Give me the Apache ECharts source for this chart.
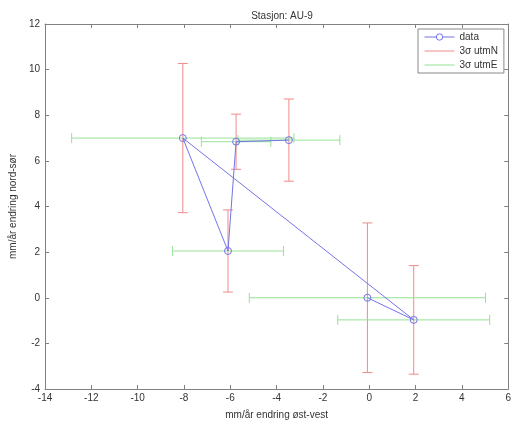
<!DOCTYPE html>
<html>
<head>
<meta charset="utf-8">
<script src="https://cdn.jsdelivr.net/npm/echarts@6/dist/echarts.min.js"></script>
<style>
  html, body { margin: 0; padding: 0; background: #fff; }
  #chart { width: 514px; height: 425px; }
</style>
</head>
<body>
<div id="chart"></div>
<script>
// Station velocities (mm/year) with 3-sigma uncertainties
const xVals = [-3.47, -5.75, -6.1, -8.05, 1.92, -0.08];   // east-west
const yVals = [6.91, 6.84, 2.05, 7.0, -0.97, 0.0];        // north-south
const errN  = [1.8, 1.21, 1.8, 3.27, 2.38, 3.28];         // 3σ utmN
const errE  = [2.2, 1.5, 2.4, 4.8, 3.28, 5.1];            // 3σ utmE

const xTicks = { min: -14, max: 6, interval: 2 };
const yTicks = { min: -4, max: 12, interval: 2 };

const blue = '#7474e6';
const red = '#f08a8a';
const green = '#96e296';
const axisColor = '#808080';
const font = 'Liberation Sans, Arial, sans-serif';

const pts = xVals.map((x, i) => [x, yVals[i]]);
const nData = xVals.map((x, i) => [x, yVals[i], errN[i]]);
const eData = xVals.map((x, i) => [x, yVals[i], errE[i]]);

function errorBar(vertical, color) {
  return function (params, api) {
    const x = api.value(0), y = api.value(1), e = api.value(2);
    const a = vertical ? api.coord([x, y + e]) : api.coord([x - e, y]);
    const b = vertical ? api.coord([x, y - e]) : api.coord([x + e, y]);
    const cap = 5;
    const style = { stroke: color, lineWidth: 1, fill: null };
    const seg = (x1, y1, x2, y2) => ({ type: 'line', shape: { x1, y1, x2, y2 }, style });
    const kids = [seg(a[0], a[1], b[0], b[1])];
    if (vertical) {
      kids.push(seg(a[0] - cap, a[1], a[0] + cap, a[1]));
      kids.push(seg(b[0] - cap, b[1], b[0] + cap, b[1]));
    } else {
      kids.push(seg(a[0], a[1] - cap, a[0], a[1] + cap));
      kids.push(seg(b[0], b[1] - cap, b[0], b[1] + cap));
    }
    return { type: 'group', children: kids };
  };
}

const axisCommon = {
  axisLine: { show: true, onZero: false, lineStyle: { color: axisColor, width: 1 } },
  axisTick: { show: true, inside: true, length: 4, lineStyle: { color: axisColor } },
  splitLine: { show: false }
};

const chart = echarts.init(document.getElementById('chart'), null, { renderer: 'canvas' });
chart.setOption({
  animation: false,
  backgroundColor: '#fff',
  textStyle: { fontFamily: font },
  title: {
    text: 'Stasjon: AU-9',
    left: 277, top: 6, textAlign: 'center',
    textStyle: { fontSize: 10, fontWeight: 'normal', color: '#333', fontFamily: font }
  },
  grid: { left: 45, right: 4, top: 24, bottom: 33, containLabel: false },
  legend: {
    orient: 'vertical',
    left: 418, top: 29,
    width: 85,
    itemWidth: 30, itemHeight: 8, itemGap: 4,
    padding: [3, 6, 3, 6],
    backgroundColor: '#fff',
    borderColor: '#888', borderWidth: 1,
    textStyle: { fontSize: 10, color: '#333', fontFamily: font },
    data: [
      { name: 'data', itemStyle: { color: '#fff', borderColor: blue, borderWidth: 1 }, lineStyle: { width: 1 } },
      { name: '3σ utmN', itemStyle: { opacity: 0 }, lineStyle: { width: 1 } },
      { name: '3σ utmE', itemStyle: { opacity: 0 }, lineStyle: { width: 1 } }
    ]
  },
  xAxis: [
    Object.assign({ type: 'value', position: 'bottom', min: xTicks.min, max: xTicks.max, interval: xTicks.interval,
      name: 'mm/år endring øst-vest', nameLocation: 'middle', nameGap: 21,
      nameTextStyle: { fontSize: 10, color: '#333', fontFamily: font },
      axisLabel: { fontSize: 10, color: '#333', margin: 4, fontFamily: font } }, axisCommon),
    Object.assign({ type: 'value', position: 'top', min: xTicks.min, max: xTicks.max, interval: xTicks.interval,
      axisLabel: { show: false } }, axisCommon)
  ],
  yAxis: [
    Object.assign({ type: 'value', position: 'left', min: yTicks.min, max: yTicks.max, interval: yTicks.interval,
      name: 'mm/år endring nord-sør', nameLocation: 'middle', nameGap: 21,
      nameTextStyle: { fontSize: 10, color: '#333', fontFamily: font },
      axisLabel: { fontSize: 10, color: '#333', margin: 5, fontFamily: font } }, axisCommon),
    Object.assign({ type: 'value', position: 'right', min: yTicks.min, max: yTicks.max, interval: yTicks.interval,
      axisLabel: { show: false } }, axisCommon)
  ],
  series: [
    // legend swatches for the uncertainty bars
    { name: '3σ utmN', type: 'line', data: [], symbol: 'none', lineStyle: { color: red, width: 1 }, itemStyle: { color: red } },
    { name: '3σ utmE', type: 'line', data: [], symbol: 'none', lineStyle: { color: green, width: 1 }, itemStyle: { color: green } },
    {
      name: '3σ utmN', type: 'custom', xAxisIndex: 0, yAxisIndex: 0,
      renderItem: errorBar(true, red), data: nData, encode: { x: 0, y: 1 }, z: 2, silent: true
    },
    {
      name: '3σ utmE', type: 'custom', xAxisIndex: 0, yAxisIndex: 0,
      renderItem: errorBar(false, green), data: eData, encode: { x: 0, y: 1 }, z: 2, silent: true
    },
    {
      name: 'data', type: 'line', xAxisIndex: 0, yAxisIndex: 0, data: pts,
      symbol: 'circle', symbolSize: 7, showAllSymbol: true,
      lineStyle: { color: blue, width: 1 },
      itemStyle: { color: 'rgba(255,255,255,0)', borderColor: blue, borderWidth: 1 },
      emphasis: { disabled: true },
      z: 3
    }
  ]
});
</script>
</body>
</html>
